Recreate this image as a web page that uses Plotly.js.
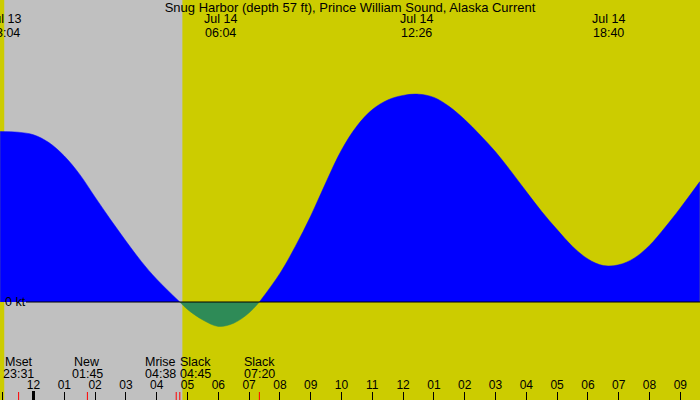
<!DOCTYPE html>
<html>
<head>
<meta charset="utf-8">
<script src="https://cdn.plot.ly/plotly-3.0.1.min.js"></script>
<style>html,body{margin:0;padding:0;background:#cccc00;}#chart{width:700px;height:400px;}</style>
</head>
<body>
<div id="chart"></div>
<script>
// ---- data ----
const chartTitle = 'Snug Harbor (depth 57 ft), Prince William Sound, Alaska Current';
const times = ['2024-07-13 22:55','2024-07-13 23:30','2024-07-14 00:00','2024-07-14 00:30',
  '2024-07-14 01:00','2024-07-14 01:30','2024-07-14 02:00','2024-07-14 02:30','2024-07-14 03:00',
  '2024-07-14 03:30','2024-07-14 04:00','2024-07-14 04:45','2024-07-14 05:00',
  '2024-07-14 05:30','2024-07-14 06:00','2024-07-14 06:30','2024-07-14 07:00','2024-07-14 07:20',
  '2024-07-14 08:00','2024-07-14 08:30','2024-07-14 09:00','2024-07-14 09:30',
  '2024-07-14 10:00','2024-07-14 10:30','2024-07-14 11:00','2024-07-14 11:30','2024-07-14 12:00',
  '2024-07-14 12:30','2024-07-14 13:00','2024-07-14 13:30','2024-07-14 14:00','2024-07-14 14:30',
  '2024-07-14 15:00','2024-07-14 15:30','2024-07-14 16:00','2024-07-14 16:30','2024-07-14 17:00',
  '2024-07-14 17:30','2024-07-14 18:00','2024-07-14 18:30','2024-07-14 19:00','2024-07-14 19:30',
  '2024-07-14 20:00','2024-07-14 20:30','2024-07-14 21:00','2024-07-14 21:38'];
const speeds = [0.852,0.849,0.836,0.797,
  0.730,0.638,0.524,0.412,0.305,
  0.203,0.114,0,-0.037,
  -0.090,-0.122,-0.106,-0.054,0,
  0.143,0.278,0.430,0.600,
  0.760,0.880,0.962,1.010,1.033,
  1.039,1.023,0.977,0.912,0.835,
  0.751,0.654,0.552,0.452,0.362,
  0.278,0.215,0.182,0.186,0.219,
  0.283,0.372,0.470,0.602];
const extremaTimes = ['2024-07-13 23:04','2024-07-14 06:04','2024-07-14 12:26','2024-07-14 18:40'];
const extremaDates = ['Jul 13','Jul 14','Jul 14','Jul 14'];
const eventNames = ['Mset','New','Mrise','Slack','Slack'];
const eventTimes = ['2024-07-13 23:31','2024-07-14 01:45','2024-07-14 04:38','2024-07-14 04:45','2024-07-14 07:20'];
const sunset = '2024-07-13 23:03';
const sunrise = '2024-07-14 04:50';
const dayBoundary = '2024-07-14 00:00';
const xRange = ['2024-07-13 22:54:45','2024-07-14 21:38:20'];
const zeroLabel = '0 kt';

// ---- styles ----
const eventAnchors = ['center','center','right','left','center'];
const anchorShift = {center: 0, left: -2, right: 2};
const YELLOW = '#cccc00', GRAY = '#c0c0c0', BLUE = '#0000ff', GREEN = '#2e8b57';
const FONT = 'Liberation Sans, Arial, sans-serif';
const H = 400;
const py = px => 1 - px / H;

const pos = speeds.map(v => v >= 0 ? v : null);
const neg = speeds.map(v => v <= 0 ? v : null);

const traces = [
  {x: times, y: pos, type: 'scatter', mode: 'lines', fill: 'tozeroy', fillcolor: BLUE,
   line: {color: BLUE, width: 0.5, shape: 'spline', smoothing: 1}, connectgaps: false, hoverinfo: 'skip'},
  {x: times, y: neg, type: 'scatter', mode: 'lines', fill: 'tozeroy', fillcolor: GREEN,
   line: {color: GREEN, width: 0.5, shape: 'spline', smoothing: 1}, connectgaps: false, hoverinfo: 'skip'}
];

const shapes = [
  {type: 'rect', xref: 'x', yref: 'paper', x0: sunset, x1: sunrise, y0: 0, y1: 1,
   fillcolor: GRAY, line: {width: 0}, layer: 'below'},
  {type: 'line', xref: 'paper', yref: 'y', x0: 26/700, x1: 1, y0: 0, y1: 0,
   line: {color: '#000', width: 1}, layer: 'above'},
  {type: 'line', xref: 'x', yref: 'paper', x0: dayBoundary, x1: dayBoundary, y0: 0, y1: 9/H,
   line: {color: '#000', width: 3}, layer: 'above'}
];
eventTimes.forEach(t => shapes.push({type: 'line', xref: 'x', yref: 'paper', x0: t, x1: t, y0: 0, y1: 8/H,
  line: {color: '#ff0000', width: 1}, layer: 'above'}));

const annotations = [];
const fnt = {family: FONT, size: 12.5, color: '#000'};
extremaTimes.forEach((t, i) => {
  annotations.push({x: t, xref: 'x', y: py(19.5), yref: 'paper', text: extremaDates[i], showarrow: false,
    xanchor: 'center', yanchor: 'middle', font: fnt});
  annotations.push({x: t, xref: 'x', y: py(32.5), yref: 'paper', text: t.slice(11, 16), showarrow: false,
    xanchor: 'center', yanchor: 'middle', font: fnt});
});
eventNames.forEach((n, i) => {
  const a = eventAnchors[i];
  annotations.push({x: eventTimes[i], xref: 'x', y: py(361.5), yref: 'paper', text: n, showarrow: false,
    xanchor: a, xshift: anchorShift[a], yanchor: 'middle', font: fnt});
  annotations.push({x: eventTimes[i], xref: 'x', y: py(374), yref: 'paper', text: eventTimes[i].slice(11, 16), showarrow: false,
    xanchor: a, xshift: anchorShift[a], yanchor: 'middle', font: fnt});
});
annotations.push({x: 3/700, xref: 'paper', y: 0, yref: 'y', text: zeroLabel, showarrow: false,
  xanchor: 'left', yanchor: 'middle', font: fnt});

const layout = {
  width: 700, height: 400,
  margin: {l: 0, r: 0, t: 0, b: 0, pad: 0},
  paper_bgcolor: YELLOW, plot_bgcolor: YELLOW,
  showlegend: false,
  title: {text: chartTitle, font: {family: FONT, size: 13, color: '#000'}, x: 0.5, xanchor: 'center',
    y: py(7.5), yref: 'container', yanchor: 'middle'},
  xaxis: {type: 'date', range: xRange, showgrid: false, zeroline: false, showline: false,
    tick0: dayBoundary, dtick: 3600000, tickformat: '%I', ticks: 'inside', ticklen: 8, tickcolor: '#000', tickwidth: 1,
    ticklabelposition: 'inside', tickfont: {family: FONT, size: 12, color: '#000'}, fixedrange: true},
  yaxis: {range: [-0.49, 1.51], visible: false, showgrid: false, zeroline: false, fixedrange: true},
  shapes: shapes,
  annotations: annotations
};

Plotly.newPlot('chart', traces, layout, {staticPlot: true, displayModeBar: false});
</script>
</body>
</html>
